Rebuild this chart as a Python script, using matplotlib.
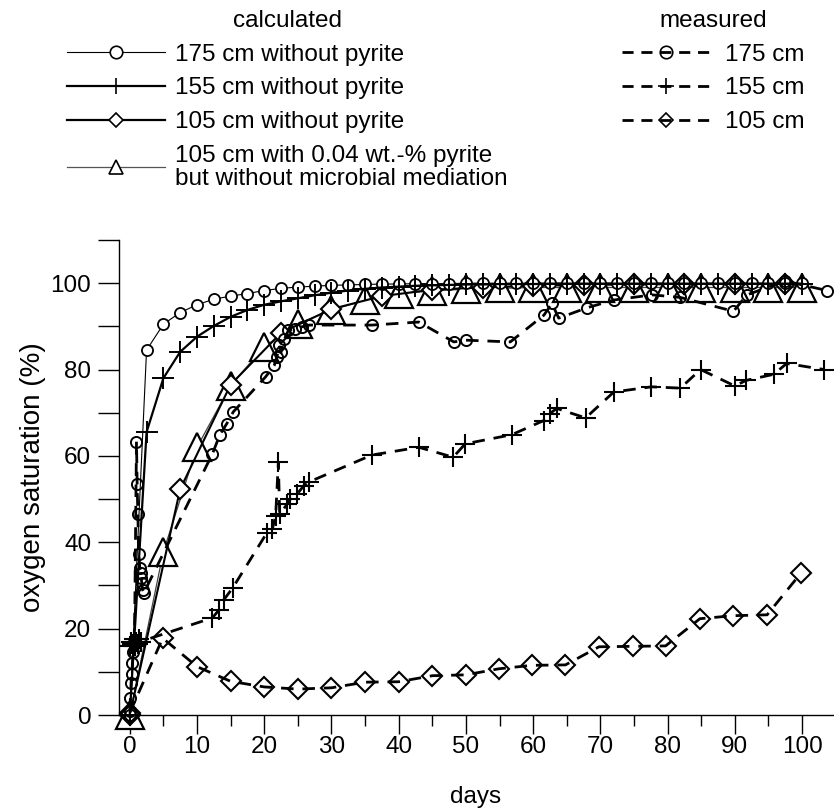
import matplotlib
matplotlib.use("Agg")
import matplotlib.pyplot as plt
from matplotlib.lines import Line2D

plt.rcParams['font.family'] = ['Liberation Sans', 'DejaVu Sans']

# ---------------- data ----------------
# calculated, 175 cm without pyrite (circles)
calc175_days = [0, 2.5, 5, 7.5, 10, 12.5, 15, 17.5, 20, 22.5, 25, 27.5, 30, 32.5, 35, 37.5, 40,
                42.5, 45, 47.5, 50, 52.5, 55, 57.5, 60, 62.5, 65, 67.5, 70, 72.5, 75, 77.5, 80,
                82.5, 85, 87.5, 90, 92.5, 95, 97.5, 100]
calc175_vals = [0, 84.5, 90.5, 93.2, 95.0, 96.3, 97.0, 97.6, 98.3, 98.8, 99.1, 99.3, 99.5, 99.6, 99.7,
                99.8, 99.8, 99.9, 99.9, 99.9, 100, 100, 100, 100, 100, 100, 100, 100, 100, 100,
                100, 100, 100, 100, 100, 100, 100, 100, 100, 100, 100]

# calculated, 155 cm without pyrite (plus)
calc155_days = calc175_days
calc155_vals = [0, 65.5, 78.0, 84.1, 87.6, 90.1, 92.2, 93.8, 95.0, 95.8, 96.5, 97.2, 97.8, 98.3, 98.7,
                99.0, 99.2, 99.4, 99.5, 99.6, 99.7, 99.7, 99.8, 99.8, 99.8, 99.9, 99.9, 99.9, 99.9,
                99.9, 99.9, 99.9, 99.9, 99.9, 99.9, 99.9, 99.9, 99.9, 99.9, 99.9, 99.9]

# calculated, 105 cm without pyrite (diamonds)
calc105_days = [0, 7.5, 15, 22.5, 30, 37.5, 45, 52.5, 60, 67.5, 75, 82.5, 90, 97.5]
calc105_vals = [0, 52.3, 76.5, 88.5, 94.0, 97.0, 98.5, 99.0, 99.4, 99.6, 99.7, 99.8, 99.8, 99.8]

# calculated, 105 cm with 0.04 wt.-% pyrite, no microbial mediation (triangles)
calcpyr_days = [0, 5, 10, 15, 20, 25, 30, 35, 40, 45, 50, 55, 60, 65, 70, 75, 80, 85, 90, 95, 100]
calcpyr_vals = [0, 37.8, 62.0, 76.3, 85.3, 90.6, 93.8, 96.0, 97.6, 98.2, 98.6, 98.8, 99.0, 99.0,
                99.0, 99.0, 99.0, 99.0, 99.0, 99.0, 99.0]

# measured, 175 cm
meas175_days = [0, 0.1, 0.2, 0.3, 0.4, 0.5, 0.7, 1.0, 1.1, 1.2, 1.35, 1.5, 1.6, 1.7, 1.8, 1.9, 2.1,
                12.3, 13.4, 14.4, 15.4, 20.2, 21.5, 21.9, 22.2, 22.5, 23.0, 23.6, 24.6, 25.6, 26.7,
                36.0, 43.0, 48.2, 50.0, 56.6, 61.6, 62.8, 63.8, 68.0, 72.0, 77.7, 81.9, 89.8, 91.8,
                97.5, 103.7]
meas175_vals = [1, 4, 7.5, 9.5, 12, 14.5, 17, 63.3, 53.5, 46.5, 37.2, 34, 33, 31.7, 30.5, 29, 28.3,
                60.5, 64.9, 67.4, 70.2, 78.3, 81, 83, 85.6, 84, 87, 89.1, 89.5, 89.9, 90.3,
                90.3, 91.0, 86.4, 86.8, 86.4, 92.6, 95.3, 91.9, 94.3, 96.1, 97.3, 96.7, 93.5, 97.3,
                100.5, 98.3]

# measured, 155 cm
meas155_days = [0, 0.2, 0.4, 0.6, 0.8, 1.0, 1.2, 1.4, 1.6, 12.3, 13.3, 14.0, 15.3, 20.4, 21.2, 21.7,
                22.1, 22.3, 23.4, 23.9, 24.9, 25.9, 26.7, 36.0, 43.0, 48.1, 49.9, 56.8, 61.6, 62.5,
                63.5, 67.8, 72.0, 77.6, 81.9, 84.9, 90.0, 91.7, 95.8, 97.7, 103.3]
meas155_vals = [16, 17, 16.5, 17.5, 16, 17, 16.5, 17.5, 17, 22.5, 24.4, 26.7, 29.4, 42.2, 43.0, 46.1,
                58.5, 46.5, 48.8, 50.0, 51.2, 53.1, 54.0, 60.2, 62.0, 59.7, 62.8, 64.9, 68.2, 69.8,
                71.0, 68.8, 74.8, 76.0, 75.7, 80.0, 76.2, 77.5, 78.9, 81.4, 80.0]

# measured, 105 cm
meas105_days = [0, 4.9, 10, 15, 20, 25, 30, 35, 40, 45, 50, 54.9, 59.8, 64.8, 69.8, 74.8, 79.7,
                84.8, 89.8, 94.8, 99.8]
meas105_vals = [0.5, 17.8, 11.2, 7.8, 6.5, 6.0, 6.3, 7.6, 7.7, 9.1, 9.3, 10.7, 11.5, 11.6, 15.8,
                15.9, 16.0, 22.3, 23.0, 23.2, 32.8]

x_ticks = [0, 10, 20, 30, 40, 50, 60, 70, 80, 90, 100]
x_minor = [5, 15, 25, 35, 45, 55, 65, 75, 85, 95]
y_ticks = [0, 10, 20, 30, 40, 50, 60, 70, 80, 90, 100, 110]
y_ticklabels = ['0', '', '20', '', '40', '', '60', '', '80', '', '100', '']

calc_labels = ['175 cm without pyrite', '155 cm without pyrite', '105 cm without pyrite',
               '105 cm with 0.04 wt.-% pyrite\nbut without microbial mediation']
meas_labels = ['175 cm', '155 cm', '105 cm']

# ---------------- figure ----------------
W, H = 834, 811
FS = 17.5
fig = plt.figure(figsize=(W / 100, H / 100), dpi=100)
ax = fig.add_axes([119 / W, 96 / H, (833 - 119) / W, (715 - 240) / H])

dash = (0, (4.5, 3.2))

ax.plot(calcpyr_days, calcpyr_vals, color='#444444', lw=0.9, marker='^', ms=20, mfc='white',
        mec='black', mew=1.6, clip_on=False, zorder=2)
ax.plot(calc105_days, calc105_vals, color='black', lw=1.5, marker='D', ms=10, mfc='white',
        mec='black', mew=1.5, clip_on=False, zorder=3)
ax.plot(calc175_days, calc175_vals, color='black', lw=0.8, marker='o', ms=8, mfc='white',
        mec='black', mew=1.3, clip_on=False, zorder=4)
ax.plot(calc155_days, calc155_vals, color='black', lw=1.6, marker='+', ms=16, mew=1.4,
        clip_on=False, zorder=5)

ax.plot(meas175_days, meas175_vals, color='black', lw=2.0, ls=dash, marker='o', ms=8,
        mfc='none', mec='black', mew=1.4, clip_on=False, zorder=6)
ax.plot(meas155_days, meas155_vals, color='black', lw=2.0, ls=dash, marker='+', ms=15,
        mew=1.5, clip_on=False, zorder=6)
ax.plot(meas105_days, meas105_vals, color='black', lw=2.0, ls=dash, marker='D', ms=10,
        mfc='none', mec='black', mew=1.5, clip_on=False, zorder=6)

ax.set_xlim(-1.6, 104.6)
ax.set_ylim(0, 110)
for s in ['top', 'right']:
    ax.spines[s].set_visible(False)
for s in ['left', 'bottom']:
    ax.spines[s].set_linewidth(1.0)

ax.set_xticks(x_ticks)
ax.set_xticks(x_minor, minor=True)
ax.set_yticks(y_ticks)
ax.set_yticklabels(y_ticklabels)
ax.tick_params(axis='x', which='major', direction='out', length=14, width=1.0, labelsize=FS, pad=1)
ax.tick_params(axis='x', which='minor', direction='out', length=8, width=1.0)
ax.tick_params(axis='y', which='major', direction='out', length=15, width=1.0, labelsize=FS, pad=5)

ax.set_xlabel('days', fontsize=FS, labelpad=20)
ax.set_ylabel('oxygen saturation (%)', fontsize=20, labelpad=3)

# ---------------- legends ----------------
mdash = (0, (4, 2.8))
calc_handles = [
    Line2D([], [], color='black', lw=0.8, marker='o', ms=9, mfc='white', mec='black', mew=1.2),
    Line2D([], [], color='black', lw=1.6, marker='|', ms=12, mec='black', mew=1.2),
    Line2D([], [], color='black', lw=1.6, marker='D', ms=7, mfc='white', mec='black', mew=1.2),
    Line2D([], [], color='#555555', lw=0.9, marker='^', ms=10, mfc='white', mec='black', mew=1.2),
]
meas_handles = [
    Line2D([], [], color='black', lw=2.0, ls=mdash, marker='o', ms=9, mfc='none', mec='black', mew=1.2),
    Line2D([], [], color='black', lw=2.0, ls=mdash, marker='+', ms=12, mec='black', mew=1.2),
    Line2D([], [], color='black', lw=2.0, ls=mdash, marker='D', ms=7, mfc='none', mec='black', mew=1.2),
]

leg1 = fig.legend(handles=calc_handles, labels=calc_labels, title='calculated', loc='upper left',
                  bbox_to_anchor=(67 / W, 1 - 10 / H), frameon=False, fontsize=FS, title_fontsize=FS,
                  handlelength=4.03, handletextpad=0.41, labelspacing=0.48, borderpad=0,
                  borderaxespad=0)
for t in leg1.get_texts():
    t.set_linespacing(1.05)
leg2 = fig.legend(handles=meas_handles, labels=meas_labels, title='measured', loc='upper left',
                  bbox_to_anchor=(622 / W, 1 - 10 / H), frameon=False, fontsize=FS, title_fontsize=FS,
                  handlelength=3.62, handletextpad=0.62, labelspacing=0.48, borderpad=0,
                  borderaxespad=0)

fig.savefig('out.png', dpi=100)
